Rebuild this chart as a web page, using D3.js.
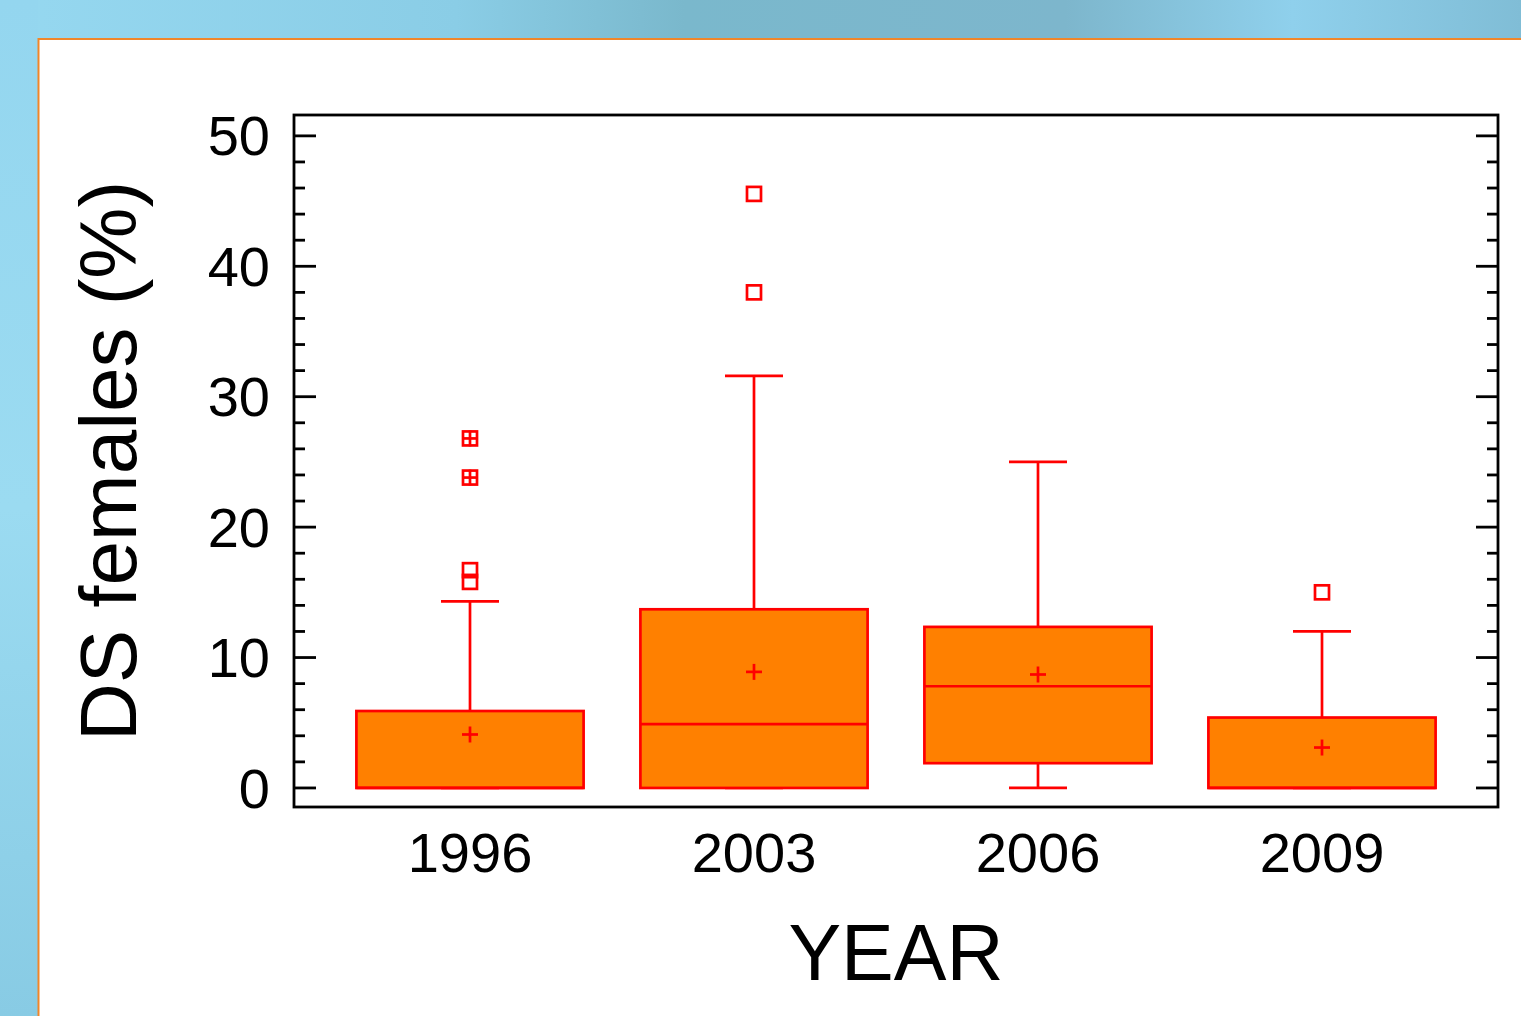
<!DOCTYPE html>
<html><head><meta charset="utf-8">
<script src="https://cdn.jsdelivr.net/npm/d3@7/dist/d3.min.js"></script>
<style>html,body{margin:0;padding:0;overflow:hidden;background:#8fd2ec}</style>
</head><body>
<svg id="c" width="1521" height="1016"></svg>
<script>
// ---- data ----
const years = ["1996", "2003", "2006", "2009"];
const q1 = [0, 0, 1.9, 0];
const median = [0, 4.9, 7.8, 0];
const q3 = [5.9, 13.7, 12.35, 5.4];
const whiskerLow = [0, 0, 0, 0];
const whiskerHigh = [14.3, 31.6, 25.0, 12.0];
const means = [4.1, 8.9, 8.7, 3.1];
const outliers = [[16.7, 15.8], [45.55, 38.0], [], [15.0]];
const farOutliers = [[26.8, 23.8], [], [], []];
const yTicks = [0, 10, 20, 30, 40, 50];
const yMinorTicks = d3.range(0, 52, 2);
const yTitle = "DS females (%)";
const xTitle = "YEAR";

(function () {
const svg = d3.select("#c");
// background
const defs = svg.append("defs");
const g1 = defs.append("linearGradient").attr("id", "bg").attr("x1", 0).attr("x2", 1).attr("y1", 0).attr("y2", 0);
g1.append("stop").attr("offset", "0").attr("stop-color", "#96d8f0");
g1.append("stop").attr("offset", "0.3").attr("stop-color", "#8acde6");
g1.append("stop").attr("offset", "0.45").attr("stop-color", "#7ab8cc");
g1.append("stop").attr("offset", "0.7").attr("stop-color", "#7db6cc");
g1.append("stop").attr("offset", "0.85").attr("stop-color", "#8fd0ec");
g1.append("stop").attr("offset", "1").attr("stop-color", "#80bdd6");
svg.append("rect").attr("width", 1521).attr("height", 1016).attr("fill", "url(#bg)");
const g2 = defs.append("linearGradient").attr("id", "bgl").attr("x1", 0).attr("x2", 0).attr("y1", 0).attr("y2", 1);
g2.append("stop").attr("offset", "0").attr("stop-color", "#94d6ef");
g2.append("stop").attr("offset", "0.5").attr("stop-color", "#9bdbf1");
g2.append("stop").attr("offset", "1").attr("stop-color", "#88cbe4");
svg.append("rect").attr("x", 0).attr("y", 0).attr("width", 38).attr("height", 1016).attr("fill", "url(#bgl)");
// white panel
svg.append("rect").attr("x", 38.5).attr("y", 39).attr("width", 1500).attr("height", 1000)
  .attr("fill", "#ffffff").attr("stroke", "#f0862a").attr("stroke-width", 2);

// scales
const pL = 294, pR = 1498, pT = 115, pB = 807;
const y = d3.scaleLinear().domain([-1.46, 51.6]).range([pB, pT]);
const x = d3.scaleBand().domain(years).range([328, 1464]).padding(0);
const boxW = x.bandwidth() * 0.8;
const capW = 58;
const cx = d => x(d) + x.bandwidth() / 2;

const font = "'Liberation Sans', Arial, Helvetica, sans-serif";

// frame
svg.append("rect").attr("x", pL).attr("y", pT).attr("width", pR - pL).attr("height", pB - pT)
  .attr("fill", "none").attr("stroke", "#000").attr("stroke-width", 2.8);

// ticks (inward, both sides)
const tickG = svg.append("g").attr("stroke", "#000").attr("stroke-width", 2.8);
yMinorTicks.forEach(v => {
  const major = yTicks.includes(v);
  const len = major ? 22 : 11;
  tickG.append("line").attr("x1", pL).attr("x2", pL + len).attr("y1", y(v)).attr("y2", y(v));
  tickG.append("line").attr("x1", pR).attr("x2", pR - len).attr("y1", y(v)).attr("y2", y(v));
});
// y tick labels
svg.append("g").selectAll("text").data(yTicks).join("text")
  .attr("x", 270).attr("y", d => y(d)).attr("dy", "0.35em")
  .attr("text-anchor", "end").attr("font-family", font).attr("font-size", 56).attr("fill", "#000")
  .text(d => d);
// x tick labels
svg.append("g").selectAll("text").data(years).join("text")
  .attr("x", d => cx(d)).attr("y", 872)
  .attr("text-anchor", "middle").attr("font-family", font).attr("font-size", 56).attr("fill", "#000")
  .text(d => d);
// titles
svg.append("text").attr("x", 896).attr("y", 980).attr("text-anchor", "middle")
  .attr("font-family", font).attr("font-size", 79).attr("fill", "#000").text(xTitle);
svg.append("text").attr("transform", `translate(136,461) rotate(-90)`).attr("text-anchor", "middle")
  .attr("font-family", font).attr("font-size", 80).attr("fill", "#000").text(yTitle);

// boxes
const red = "#ff0000";
const bg = svg.append("g").attr("stroke", red).attr("stroke-width", 2.7);
years.forEach((yr, i) => {
  const c = cx(yr);
  bg.append("line").attr("x1", c).attr("x2", c).attr("y1", y(q3[i])).attr("y2", y(whiskerHigh[i]));
  bg.append("line").attr("x1", c - capW / 2).attr("x2", c + capW / 2).attr("y1", y(whiskerHigh[i])).attr("y2", y(whiskerHigh[i]));
  bg.append("line").attr("x1", c).attr("x2", c).attr("y1", y(q1[i])).attr("y2", y(whiskerLow[i]));
  bg.append("line").attr("x1", c - capW / 2).attr("x2", c + capW / 2).attr("y1", y(whiskerLow[i])).attr("y2", y(whiskerLow[i]));
  bg.append("rect").attr("x", c - boxW / 2).attr("y", y(q3[i])).attr("width", boxW)
    .attr("height", y(q1[i]) - y(q3[i])).attr("fill", "#ff8000");
  bg.append("line").attr("x1", c - boxW / 2).attr("x2", c + boxW / 2).attr("y1", y(median[i])).attr("y2", y(median[i]));
  const m = y(means[i]);
  bg.append("line").attr("x1", c - 8).attr("x2", c + 8).attr("y1", m).attr("y2", m);
  bg.append("line").attr("x1", c).attr("x2", c).attr("y1", m - 8).attr("y2", m + 8);
  outliers[i].forEach(v => {
    bg.append("rect").attr("x", c - 7).attr("y", y(v) - 7).attr("width", 14).attr("height", 14).attr("fill", "none");
  });
  farOutliers[i].forEach(v => {
    bg.append("rect").attr("x", c - 7).attr("y", y(v) - 7).attr("width", 14).attr("height", 14).attr("fill", "none");
    bg.append("line").attr("x1", c - 8).attr("x2", c + 8).attr("y1", y(v)).attr("y2", y(v));
    bg.append("line").attr("x1", c).attr("x2", c).attr("y1", y(v) - 8).attr("y2", y(v) + 8);
  });
});
})();
</script>
</body></html>
